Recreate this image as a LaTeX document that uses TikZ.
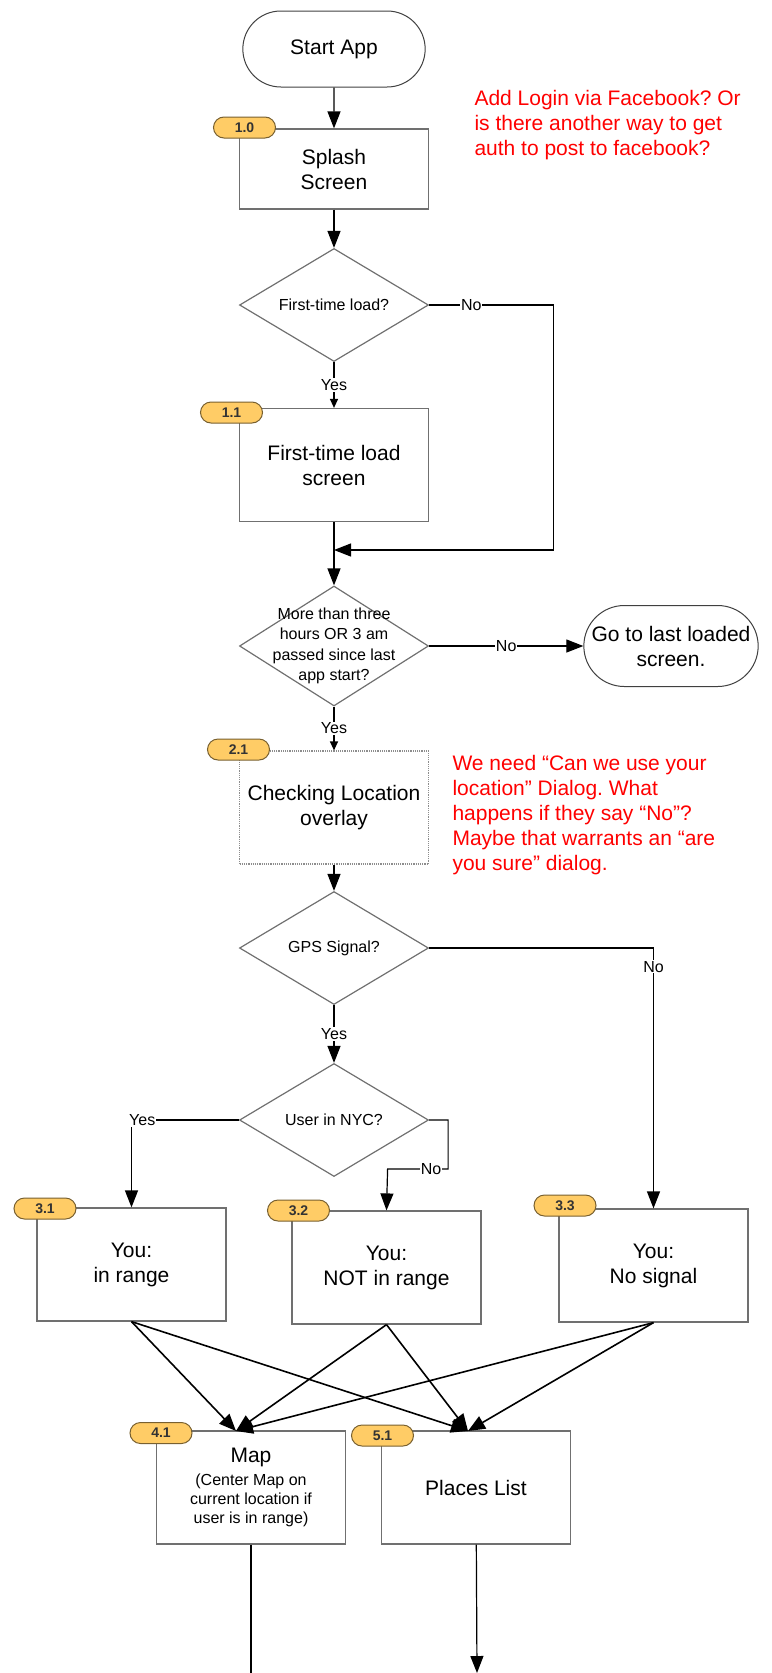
\documentclass[tikz,border=0pt]{standalone}
\usepackage{fontspec}
\setmainfont{Liberation Sans}
\frenchspacing
\usetikzlibrary{shapes.geometric,shapes.misc,arrows.meta}
\definecolor{boxline}{RGB}{112,112,112}
\definecolor{pillfill}{RGB}{255,204,102}
\definecolor{pillline}{RGB}{120,96,48}
\definecolor{pilltext}{RGB}{51,51,51}
\definecolor{notered}{RGB}{255,0,0}
\begin{document}
\begin{tikzpicture}[x=1pt,y=-1pt]
    \tikzstyle{screen}=[draw=boxline,line width=1.2pt,rectangle,minimum width=189pt,minimum height=113pt,inner sep=0pt,align=center,font=\fontsize{21}{25}\selectfont]
    \tikzstyle{terminal}=[draw=black!75,line width=1pt,rounded rectangle,minimum width=189pt,minimum height=76pt,align=center,font=\fontsize{21}{25}\selectfont]
    \tikzstyle{decision}=[draw=boxline,line width=1.2pt,diamond,minimum width=189pt,minimum height=113pt,inner sep=0pt]
    \tikzstyle{dtext}=[align=center,font=\fontsize{16}{20.5}\selectfont]
    \tikzstyle{pill}=[draw=pillline,fill=pillfill,line width=1pt,rounded rectangle,minimum width=62pt,minimum height=21pt,inner sep=0pt,text=pilltext,font=\fontsize{14}{14}\selectfont\bfseries]
    \tikzstyle{lbl}=[fill=white,inner sep=1pt,font=\fontsize{16}{16}\selectfont]
    \tikzstyle{note}=[text=notered,align=left,anchor=west,font=\fontsize{21}{25}\selectfont]
    \tikzstyle{arr}=[-{Triangle[length=17pt,width=13pt]},line width=1.2pt]
    \tikzstyle{arrs}=[-{Triangle[length=9pt,width=8pt]},line width=1.2pt]
    \tikzstyle{fan}=[-{Triangle[length=17pt,width=14pt]},line width=1.6pt]
    \useasboundingbox(0,0)rectangle(771,1673);
    \draw node[terminal](start)at(334,49){Start App}
          node[screen,minimum height=80pt](splash)at(334,169){Splash\\Screen}
          node[decision,label={[dtext]center:First-time load?}](first)at(334,305){}
          node[screen](load1)at(334,465){First-time load\\screen}
          node[decision,minimum height=120pt,label={[dtext]center:{More than three\\hours OR 3 am\\passed since last\\app start?}}](hours)at(334,646){}
          node[terminal,minimum width=181pt,minimum height=81pt](last)at(671,646){Go to last loaded\\screen.}
          node[screen,draw=boxline!80,densely dotted](check)at(334,807.5){Checking Location\\overlay}
          node[decision,label={[dtext]center:GPS Signal?}](gps)at(334,948){}
          node[decision,label={[dtext]center:User in NYC?}](nyc)at(334,1120){}
          node[screen](s31)at(131.5,1264.5){You:\\in range}
          node[screen](s32)at(386.5,1267.5){You:\\NOT in range}
          node[screen](s33)at(653.5,1265.5){You:\\No signal}
          node[screen,font=\fontsize{16}{19}\selectfont](map)at(251,1487.5){{\fontsize{21}{25}\selectfont Map}\\[4pt](Center Map on\\current location if\\user is in range)}
          node[screen](list)at(476,1487.5){Places List};
    \draw node[pill](p10)at(244.5,127.5){1.0}
          node[pill](p11)at(231.5,412.5){1.1}
          node[pill](p21)at(238.5,749.5){2.1}
          node[pill](p31)at(45,1208.5){3.1}
          node[pill](p32)at(298.5,1210.5){3.2}
          node[pill](p33)at(565,1205.5){3.3}
          node[pill](p41)at(161,1433){4.1}
          node[pill](p51)at(382.5,1435.5){5.1};
    \draw node[note](fbnote)at(471,125){Add Login via Facebook? Or\\is there another way to get\\auth to post to facebook?}
          node[note](locnote)at(449,815){We need “Can we use your\\location” Dialog. What\\happens if they say “No”?\\Maybe that warrants an “are\\you sure” dialog.};
    \coordinate(merge)at(334,550);
    \coordinate(mapin)at(236,1431);
    \coordinate(listin)at(468,1431);
    \coordinate(mapout)at(251,1673);
    \coordinate(listout)at(477,1673);
    \draw[arr](start)--(splash);
    \draw[arr](splash)--(first);
    \draw[arrs](first)--node[lbl]{Yes}(load1);
    \draw[arr](first.east)--node[lbl,pos=0.34]{No}++(124,0)|-(merge);
    \draw[arr](load1)--(hours);
    \draw[arr](hours)--node[lbl]{No}(last);
    \draw[arrs](hours)--node[lbl]{Yes}(check);
    \draw[arr](check)--(gps);
    \draw[arr](gps.east)-|node[lbl,pos=0.536]{No}(s33.north);
    \draw[arr](gps)--node[lbl]{Yes}(nyc);
    \draw[arr](nyc.west)-|node[lbl,pos=0.45]{Yes}(s31.north);
    \draw[arr](nyc.east)--++(19,0)--++(0,49)--node[lbl,pos=0.28]{No}++(-60.5,0)--(s32.north);
    \draw[fan](s31.south)--(mapin);
    \draw[fan](s31.south)--(listin);
    \draw[fan](s32.south)--(mapin);
    \draw[fan](s32.south)--(listin);
    \draw[fan](s33.south)--(mapin);
    \draw[fan](s33.south)--(listin);
    \draw[-,line width=1.2pt](map)--(mapout);
    \draw[arr](list)--(listout);
\end{tikzpicture}
\end{document}
